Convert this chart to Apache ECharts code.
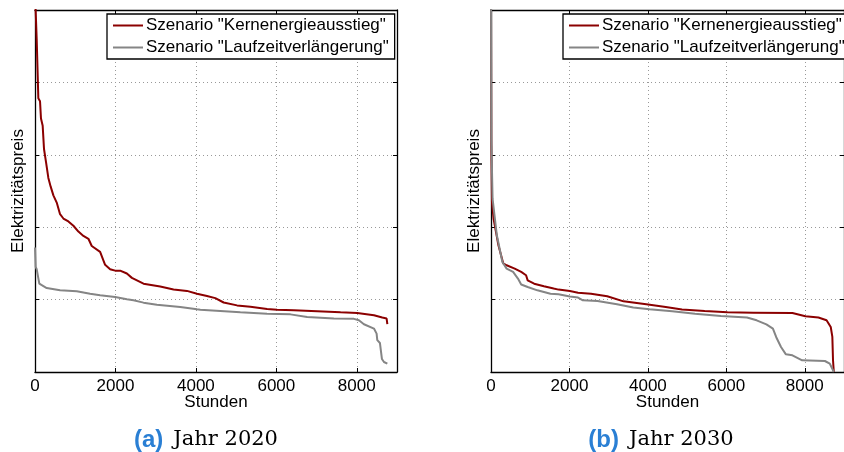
<!DOCTYPE html>
<html>
<head>
<meta charset="utf-8">
<script src="https://cdn.jsdelivr.net/npm/echarts@6/dist/echarts.min.js"></script>
<style>
  html, body { margin: 0; padding: 0; background: #fff; }
  #chart { width: 844px; height: 452px; }
</style>
</head>
<body>
<div id="chart"></div>
<script>
// Szenario names
const nameK = 'Szenario "Kernenergieausstieg"'
const nameL = 'Szenario "Laufzeitverlängerung"'

// Jahr 2020
const hours2020K = [0, 42, 83, 125, 149, 191, 224, 274, 332, 390, 457, 540, 623, 706, 830, 955, 1079, 1204, 1328, 1411, 1619, 1743, 1868, 1993, 2117, 2284, 2409, 2698, 3113, 3445, 3778, 4027, 4276, 4483, 4690, 5023, 5355, 5770, 6019, 6434, 7016, 7597, 8012, 8427, 8634, 8742, 8760]
const price2020K = [262, 230, 189, 187, 175, 170, 154, 145, 134, 128, 122, 117, 109, 106, 104, 101, 97, 94, 92, 87, 83, 74, 71, 70, 70, 68, 65, 61, 59, 57, 56, 54, 52.5, 51, 48, 46, 45, 43.5, 43, 42.6, 42, 41.2, 40.7, 39.2, 37.6, 36.9, 33]
const hours2020L = [0, 17, 42, 107, 291, 623, 1038, 1370, 1619, 1993, 2284, 2449, 2698, 3030, 3611, 4027, 4110, 4608, 5106, 5770, 6351, 6766, 7430, 7929, 8053, 8178, 8427, 8493, 8510, 8576, 8590, 8625, 8676, 8760]
const price2020L = [86, 72.5, 71, 61, 58, 56.4, 55.7, 54, 53, 51.8, 50.2, 49.5, 47.9, 46.5, 44.9, 43.3, 43, 42.1, 41.2, 40.3, 39.8, 38, 36.9, 36.7, 35.7, 33, 30, 26.5, 22, 20, 19.5, 9, 6.9, 5.8]

// Jahr 2030
const hours2030K = [0, 8, 25, 65, 189, 313, 398, 604, 770, 894, 935, 1101, 1349, 1598, 1722, 2012, 2219, 2550, 2964, 3379, 3958, 4455, 4870, 5449, 6028, 6691, 7685, 8016, 8348, 8555, 8662, 8703, 8720, 8740]
const price2030K = [265, 157, 117, 106, 87.5, 75, 73.7, 71.4, 69.1, 66.8, 63.3, 61, 59.2, 57.6, 56.9, 55.9, 54.8, 54.1, 52.3, 48.8, 46.8, 44.9, 43.1, 42.1, 41.2, 41, 40.7, 38.5, 37.6, 35.7, 31.1, 24.2, 8.1, 0]
const hours2030L = [0, 8, 40, 149, 290, 398, 563, 687, 770, 935, 1183, 1516, 1722, 2012, 2219, 2343, 2716, 3213, 3627, 4040, 4621, 5201, 5864, 6526, 6773, 7021, 7188, 7270, 7394, 7519, 7685, 7933, 8513, 8637, 8720, 8740]
const price2030L = [265, 161, 119.7, 94.4, 76, 71.4, 69.1, 64.5, 60.4, 58.7, 56.4, 54.1, 53.7, 52.2, 51.4, 49.5, 49, 46.8, 44.5, 43.3, 41.9, 40.3, 38.7, 37.6, 35.7, 32.9, 30, 24.2, 17.3, 12.2, 11.5, 8.1, 7.6, 5.8, 1.2, 0]

const captions = [['(a)', 'Jahr 2020'], ['(b)', 'Jahr 2030']]
const xName = 'Stunden'
const yName = 'Elektrizitätspreis'

const FONT = 'Liberation Sans'
const RED = '#8b0000'
const GRAY = '#858585'

const pairs = (xs, ys) => xs.map((x, i) => [x, ys[i]])

function xAxes(gridIndex) {
  const base = {
    gridIndex, type: 'value', min: 0, max: 9000, interval: 2000,
    axisLine: { show: true, onZero: false, lineStyle: { color: '#000', width: 1.3 } },
    axisTick: { show: true, inside: true, length: 4, lineStyle: { color: '#000' } }
  }
  return [
    {
      ...base, position: 'bottom',
      name: xName, nameLocation: 'middle', nameGap: 22, nameMoveOverlap: false,
      nameTextStyle: { fontFamily: FONT, fontSize: 17, color: '#000', verticalAlign: 'top' },
      axisLabel: { fontFamily: FONT, fontSize: 17, color: '#000', margin: 6, showMaxLabel: false, formatter: (v) => String(v) },
      splitLine: { show: true, lineStyle: { color: '#999', type: [1, 3], width: 1 } }
    },
    { ...base, position: 'top', axisLabel: { show: false }, splitLine: { show: false } }
  ]
}

function yAxes(gridIndex) {
  const base = {
    gridIndex, type: 'value', min: 0, max: 250, interval: 50,
    axisLine: { show: true, onZero: false, lineStyle: { color: '#000', width: 1.3 } },
    axisTick: { show: true, inside: true, length: 4, lineStyle: { color: '#000' } },
    axisLabel: { show: false }
  }
  return [
    {
      ...base, position: 'left',
      name: yName, nameLocation: 'middle', nameGap: 8, nameRotate: 90,
      nameTextStyle: { fontFamily: FONT, fontSize: 17, color: '#000' },
      splitLine: { show: true, lineStyle: { color: '#999', type: [1, 3], width: 1 } }
    },
    { ...base, position: 'right', splitLine: { show: false } }
  ]
}

function lineSeries(name, color, data, axisIdx) {
  return {
    name, type: 'line', data, symbol: 'none', showSymbol: false, animation: false,
    xAxisIndex: axisIdx, yAxisIndex: axisIdx,
    lineStyle: { color, width: 2 }, itemStyle: { color }
  }
}

function legend(left) {
  return {
    orient: 'vertical', left, top: 14,
    data: [nameK, nameL],
    icon: 'rect',
    itemWidth: 30, itemHeight: 2, itemGap: 5,
    padding: [3, 6, 3, 6],
    borderColor: '#000', borderWidth: 1.3,
    backgroundColor: '#fff',
    textStyle: { fontFamily: FONT, fontSize: 17, color: '#000', padding: [0, 0, 0, -2] },
    selectedMode: false
  }
}

function caption(c, center) {
  return {
    text: '{a|' + c[0] + '}  {b|' + c[1] + '}',
    left: center, top: 423, textAlign: 'center',
    textStyle: {
      rich: {
        a: { fontFamily: FONT, fontWeight: 'bold', fontSize: 24, color: '#2a7fd4' },
        b: { fontFamily: 'DejaVu Serif', fontWeight: 'normal', fontSize: 21, color: '#000' }
      }
    }
  }
}

const chart = echarts.init(document.getElementById('chart'))
chart.setOption({
  animation: false,
  title: [caption(captions[0], 201), caption(captions[1], 656)],
  legend: [legend(107), legend(563)],
  grid: [
    { left: 35, top: 10, width: 362, height: 362 },
    { left: 491, top: 10, width: 362, height: 362 }
  ],
  xAxis: [...xAxes(0), ...xAxes(1)],
  yAxis: [...yAxes(0), ...yAxes(1)],
  series: [
    lineSeries(nameK, RED, pairs(hours2020K, price2020K), 0),
    lineSeries(nameL, GRAY, pairs(hours2020L, price2020L), 0),
    lineSeries(nameK, RED, pairs(hours2030K, price2030K), 2),
    lineSeries(nameL, GRAY, pairs(hours2030L, price2030L), 2)
  ]
})
</script>
</body>
</html>
